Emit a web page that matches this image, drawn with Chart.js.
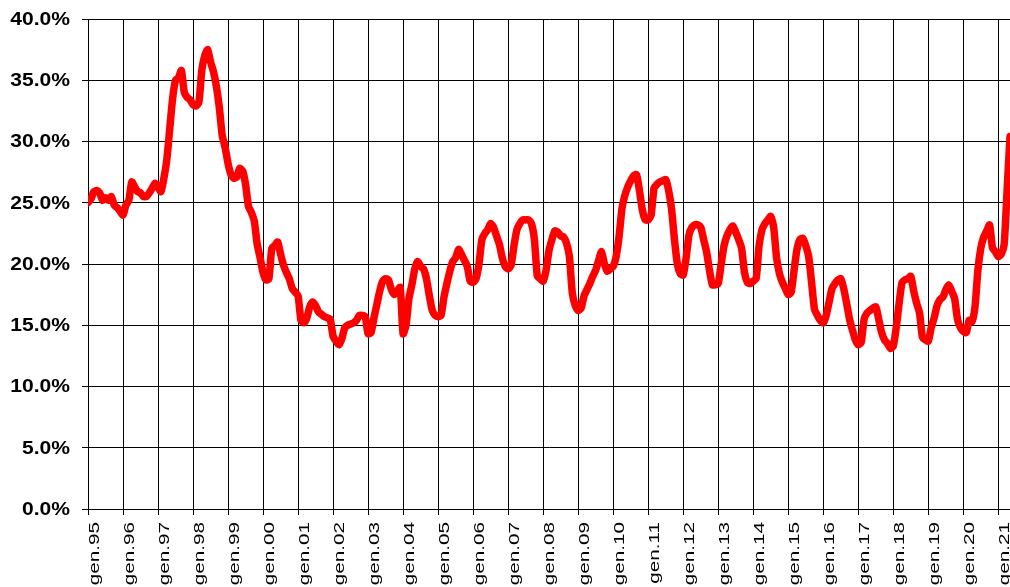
<!DOCTYPE html>
<html>
<head>
<meta charset="utf-8">
<script src="https://cdn.jsdelivr.net/npm/chart.js@4.4.0/dist/chart.umd.min.js"></script>
<style>
	html, body { margin: 0; padding: 0; background: #fff; }
	#wrap { width: 1010px; height: 587px; position: relative; }
</style>
</head>
<body>
<div id="wrap"><canvas id="rate-chart"></canvas></div>
<script>
const monthNames = ['gen', 'feb', 'mar', 'apr', 'mag', 'giu', 'lug', 'ago', 'set', 'ott', 'nov', 'dic'];
const firstYear = 1995;

// monthly values (%), one row per year
const rateValues = [
	25.0, 25.3, 25.9, 26.0, 25.8, 25.2, 25.4, 25.2, 25.5, 24.8, 24.6, 24.3, // 1995
	24.0, 24.8, 25.2, 26.7, 26.3, 25.9, 25.8, 25.5, 25.5, 25.8, 26.2, 26.6, // 1996
	26.3, 25.9, 27.0, 28.5, 31.0, 33.5, 35.0, 35.2, 35.8, 34.0, 33.6, 33.4, // 1997
	33.0, 32.9, 33.2, 35.8, 37.0, 37.5, 36.5, 35.7, 34.5, 32.8, 30.5, 29.5, // 1998
	28.2, 27.3, 27.0, 27.1, 27.8, 27.6, 26.5, 24.7, 24.2, 23.5, 21.6, 20.5, // 1999
	19.3, 18.7, 18.8, 21.3, 21.5, 21.8, 20.8, 19.9, 19.3, 18.8, 18.0, 17.7, // 2000
	17.4, 15.4, 15.2, 15.6, 16.5, 16.9, 16.6, 16.1, 15.9, 15.7, 15.6, 15.5, // 2001
	14.1, 13.7, 13.4, 13.9, 14.8, 15.0, 15.1, 15.2, 15.4, 15.8, 15.8, 15.7, // 2002
	14.3, 14.4, 15.6, 16.7, 17.8, 18.6, 18.8, 18.7, 17.9, 17.5, 17.8, 18.1, // 2003
	14.3, 15.0, 17.2, 18.3, 19.6, 20.2, 19.8, 19.6, 18.8, 17.4, 16.2, 15.8, // 2004
	15.7, 15.8, 17.3, 18.4, 19.4, 20.2, 20.5, 21.2, 20.8, 20.3, 19.8, 18.6, // 2005
	18.5, 18.8, 20.0, 22.0, 22.5, 22.8, 23.3, 23.0, 22.3, 21.6, 20.5, 19.8, // 2006
	19.6, 19.9, 21.5, 22.8, 23.3, 23.6, 23.6, 23.6, 23.3, 22.0, 19.0, 18.8, // 2007
	18.6, 19.5, 21.1, 22.0, 22.7, 22.6, 22.3, 22.2, 21.7, 20.6, 17.6, 16.6, // 2008
	16.2, 16.4, 17.4, 17.9, 18.4, 19.0, 19.5, 20.3, 21.0, 20.0, 19.4, 19.6, // 2009
	19.8, 20.6, 22.2, 24.5, 25.6, 26.3, 26.8, 27.2, 27.3, 26.0, 24.4, 23.6, // 2010
	23.6, 24.0, 26.2, 26.5, 26.7, 26.8, 26.9, 26.0, 24.5, 22.0, 20.0, 19.2, // 2011
	19.1, 20.5, 22.4, 23.0, 23.2, 23.2, 23.0, 22.0, 21.0, 19.5, 18.3, 18.3, // 2012
	18.4, 20.0, 21.5, 22.3, 22.8, 23.1, 22.6, 22.0, 21.3, 19.3, 18.5, 18.4, // 2013
	18.6, 18.8, 21.5, 22.8, 23.3, 23.6, 23.9, 23.0, 20.5, 19.2, 18.5, 18.0, // 2014
	17.5, 17.7, 19.5, 21.2, 22.0, 22.1, 21.5, 20.6, 18.5, 16.3, 15.8, 15.4, // 2015
	15.2, 15.8, 16.9, 18.0, 18.4, 18.7, 18.8, 18.0, 16.8, 15.5, 14.6, 13.8, // 2016
	13.4, 13.6, 15.5, 16.0, 16.2, 16.4, 16.5, 15.5, 14.4, 13.8, 13.5, 13.1, // 2017
	13.3, 14.8, 16.8, 18.5, 18.7, 18.8, 19.0, 17.8, 16.8, 16.0, 14.0, 13.8, // 2018
	13.7, 14.8, 15.6, 16.6, 17.1, 17.3, 17.9, 18.3, 17.8, 17.2, 15.5, 14.8, // 2019
	14.5, 14.4, 15.4, 15.3, 16.5, 19.5, 21.3, 22.2, 22.7, 23.2, 21.3, 21.0, // 2020
	20.6, 20.8, 21.6, 26.0, 30.4, // 2021
];

const yTicks = [0, 5, 10, 15, 20, 25, 30, 35, 40];

// category labels: gen.95, feb.95, ...
const monthLabels = rateValues.map((v, i) => {
	const year = firstYear + Math.floor(i / 12);
	return monthNames[i % 12] + '.' + String(year).slice(-2);
});

const gridColor = '#000000';
const labelFont = "'Liberation Sans', Arial, sans-serif";

// draws the axis texts a little stretched like the original export
const axisText = {
	id: 'axisText',
	afterDraw(chart) {
		const ctx = chart.ctx;
		const xs = chart.scales.x;
		const ys = chart.scales.y;
		ctx.save();
		ctx.fillStyle = '#000';

		// y labels
		ctx.font = `bold 18px ${labelFont}`;
		ctx.textAlign = 'right';
		ctx.textBaseline = 'middle';
		for (const v of yTicks) {
			ctx.save();
			ctx.translate(70, ys.getPixelForValue(v) + 1);
			ctx.scale(1.17, 1);
			ctx.fillText(v.toFixed(1) + '%', 0, 0);
			ctx.restore();
		}

		// x labels, only january
		ctx.font = `15px ${labelFont}`;
		ctx.textAlign = 'right';
		ctx.textBaseline = 'alphabetic';
		monthLabels.forEach((label, i) => {
			if (i % 12 !== 0) return;
			ctx.save();
			ctx.translate(xs.getPixelForValue(i) + 11, 522);
			ctx.rotate(-Math.PI / 2);
			ctx.scale(1.38, 1);
			ctx.fillText(label, 0, 0);
			ctx.restore();
		});
		ctx.restore();
	},
};

const isJan = (ctx) => ctx.index % 12 === 0;

const chart = new Chart(document.getElementById('rate-chart'), {
	type: 'line',
	data: {
		labels: monthLabels,
		datasets: [
			{
				data: rateValues,
				borderColor: '#ff0000',
				backgroundColor: '#ff0000',
				borderWidth: 7.5,
				pointRadius: 0,
				tension: 0.2,
				borderJoinStyle: 'round',
				borderCapStyle: 'round',
				fill: false,
				clip: 0,
			},
		],
	},
	options: {
		animation: false,
		responsive: true,
		maintainAspectRatio: false,
		layout: {
			padding: { top: 19, right: 0, bottom: 0, left: 0 },
		},
		plugins: {
			legend: { display: false },
			tooltip: { enabled: false },
		},
		scales: {
			x: {
				type: 'category',
				offset: false,
				grid: {
					offset: false,
					color: (ctx) => (isJan(ctx) ? gridColor : 'rgba(0,0,0,0)'),
					lineWidth: (ctx) => (isJan(ctx) ? 1 : 0),
					tickLength: 6,
				},
				border: { color: gridColor, width: 1 },
				ticks: { display: false, autoSkip: false },
				afterFit: (scale) => {
					scale.height = 78;
				},
			},
			y: {
				type: 'linear',
				min: 0,
				max: 40,
				afterBuildTicks: (scale) => {
					scale.ticks = yTicks.map((v) => ({ value: v }));
				},
				grid: {
					color: gridColor,
					lineWidth: 1,
					tickLength: 6,
				},
				border: { color: gridColor, width: 1 },
				ticks: { display: false },
				afterFit: (scale) => {
					scale.width = 88;
				},
			},
		},
	},
	plugins: [axisText],
});
</script>
</body>
</html>
